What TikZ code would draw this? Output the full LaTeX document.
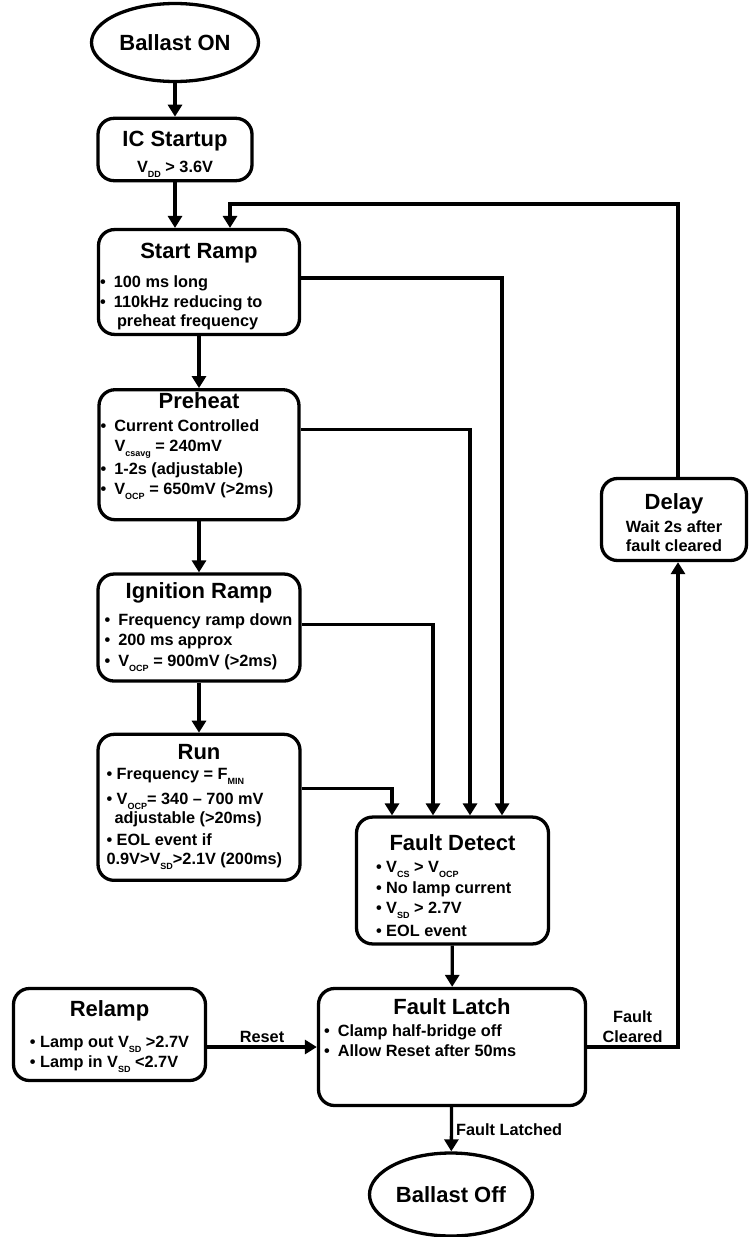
\documentclass[tikz,border=0pt]{standalone}
\usepackage{fontspec}
\setmainfont{Liberation Sans}
\usepackage{tikz}
\usetikzlibrary{shapes.geometric, arrows.meta, positioning, calc}
\newcommand{\ttlfont}{\fontsize{22}{26}\selectfont\bfseries}
\newcommand{\txtfont}{\fontsize{16.3}{19.5}\selectfont\bfseries}
\newcommand{\lowidx}[1]{\raisebox{-5pt}{\fontsize{9}{9}\selectfont #1}}
% title centred on top, lines below
\newcommand{\boxtext}[4][3pt]{\begin{tabular}{@{}#2@{}}\multicolumn{1}{@{}c@{}}{\ttlfont #3}\\[#1] #4\end{tabular}}

\begin{document}
\begin{tikzpicture}[x=1pt, y=-1pt,
        box/.style={draw, line width=3.3pt, rounded corners=16pt, align=center, inner xsep=1pt, inner ysep=2pt, font=\txtfont},
        oval/.style={draw, ellipse, line width=3.3pt, inner sep=0pt, font=\ttlfont},
        arrow/.style={-{Triangle[length=12pt, width=14pt]}, line width=3.3pt},
        lbl/.style={font=\txtfont, align=center, inner sep=3pt}
    ]
        \useasboundingbox (0,0) rectangle (749,1237);

        \node (ballaston) [oval, minimum width=167pt, minimum height=78pt] at (175,42.5) {Ballast ON};
        \node (icstart) [box, minimum width=154pt, minimum height=62pt] at (175,149.5) {\boxtext[7pt]{c}{\rule{0pt}{26pt}IC Startup}{V\lowidx{DD} > 3.6V}};
        \node (startramp) [box, minimum width=201pt, minimum height=97pt] at (199,282) {\boxtext[9.5pt]{p{198pt}}{\rule{0pt}{27pt}Start Ramp}{•\enspace 100 ms long\\ •\enspace 110kHz reducing to\\ \hspace*{17pt}preheat frequency}};
        \node (preheat) [box, minimum width=200pt, minimum height=130pt, below=52pt of startramp] {\boxtext[4pt]{p{197pt}}{Preheat}{•\enspace Current Controlled\\ \hspace*{14pt}V\lowidx{csavg} = 240mV\\[4pt] •\enspace 1-2s (adjustable)\\ •\enspace V\lowidx{OCP} = 650mV (>2ms)\\[17pt]}};
        \node (ignition) [box, minimum width=202pt, minimum height=107pt, below=51pt of preheat] {\boxtext[8pt]{p{189pt}}{Ignition Ramp}{•\enspace Frequency ramp down\\ •\enspace 200 ms approx\\[2pt] •\enspace V\lowidx{OCP} = 900mV (>2ms)}};
        \node (run) [box, minimum width=202pt, minimum height=146pt, below=50pt of ignition] {\boxtext[1pt]{p{185pt}}{Run}{• Frequency = F\lowidx{MIN}\\[5pt] • V\lowidx{OCP}= 340 – 700 mV\\ \hspace*{8pt}adjustable (>20ms)\\[2pt] • EOL event if\\ 0.9V>V\lowidx{SD}>2.1V (200ms)}};

        \node (faultdetect) [box, minimum width=192pt, minimum height=116pt] at (452.5,880.5) {\boxtext{p{153pt}}{\rule{0pt}{31pt}Fault Detect}{• V\lowidx{CS} > V\lowidx{OCP}\\[1pt] • No lamp current\\[1pt] • V\lowidx{SD} > 2.7V\\[3pt] • EOL event}};
        \node (faultlatch) [box, minimum width=267pt, minimum height=117pt] at (452,1047) {\boxtext{p{256pt}}{Fault Latch}{•\enspace Clamp half-bridge off\\ •\enspace Allow Reset after 50ms\\[34pt]}};
        \node (relamp) [box, minimum width=192pt, minimum height=92pt] at (109.5,1034.5) {\boxtext[12pt]{l}{\rule{0pt}{20pt}Relamp}{• Lamp out V\lowidx{SD} >2.7V\\ • Lamp in V\lowidx{SD} <2.7V}};
        \node (delay) [box, minimum width=145pt, minimum height=82pt] at (674,519.5) {\boxtext{c}{\rule{0pt}{28pt}Delay}{Wait 2s after\\ fault cleared}};
        \node (ballastoff) [oval, minimum width=163pt, minimum height=83pt] at (451,1194.5) {Ballast Off};

        \coordinate (looptop) at (230,204);

        \draw [arrow] (ballaston) -- (icstart);
        \draw [arrow] (icstart.south) -- (icstart.south |- startramp.north);
        \draw [arrow] (startramp) -- (preheat);
        \draw [arrow] (preheat) -- (ignition);
        \draw [arrow] (ignition) -- (run);
        \draw [arrow] ([yshift=4pt]startramp.east) -| ([xshift=49.5pt]faultdetect.north);
        \draw [arrow] ([yshift=25pt]preheat.east) -| ([xshift=17.5pt]faultdetect.north);
        \draw [arrow] ([yshift=3pt]ignition.east) -| ([xshift=-19.5pt]faultdetect.north);
        \draw [arrow] ([yshift=19pt]run.east) -| ([xshift=-60.5pt]faultdetect.north);
        \draw [arrow] (faultdetect) -- (faultlatch);
        \draw [arrow] ([yshift=-12.5pt]relamp.east) -- ([yshift=-12.5pt]relamp.east -| faultlatch.west) node [lbl, midway, above] {Reset};
        \draw [arrow] (faultlatch.east) -| ([xshift=4pt]delay.south) node [lbl, pos=0.25, above] {Fault\\Cleared};
        \draw [arrow] ([xshift=4pt]delay.north) |- (looptop) -- (looptop |- startramp.north);
        \draw [arrow] (faultlatch) -- (ballastoff) node [lbl, midway, right] {Fault Latched};
    \end{tikzpicture}
\end{document}
